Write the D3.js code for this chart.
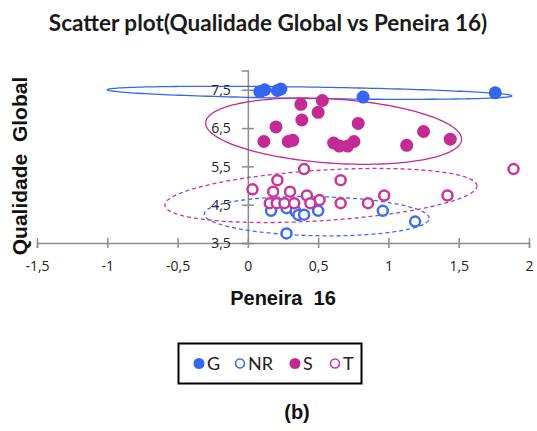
<!DOCTYPE html>
<html>
<head>
<meta charset="utf-8">
<script src="https://cdn.jsdelivr.net/npm/d3@7/dist/d3.min.js"></script>
<style>
  html, body { margin: 0; padding: 0; background: #fff; }
  svg { display: block; }
</style>
</head>
<body>
<svg id="chart" width="537" height="431"></svg>
<script>
// Series names and colours
const seriesNames = ["G", "NR", "S", "T"];
const seriesColors = ["#3566f2", "#3b6cf5", "#c42a94", "#c8369c"];
const seriesFilled = [true, false, true, false];

// Peneira 16 (x) and Qualidade Global (y) per series
const gX  = [0.085, 0.12, 0.21, 0.235, 0.82, 1.76];
const gY  = [7.45, 7.50, 7.48, 7.52, 7.31, 7.42];
const nrX = [0.165, 0.275, 0.34, 0.36, 0.40, 0.50, 0.96, 1.19, 0.275];
const nrY = [4.34, 4.41, 4.32, 4.23, 4.24, 4.34, 4.34, 4.06, 3.75];
const sX  = [0.114, 0.20, 0.287, 0.32, 0.377, 0.384, 0.53, 0.50, 0.785, 0.61, 0.65, 0.71, 0.755, 1.13, 1.25, 1.44];
const sY  = [6.15, 6.53, 6.15, 6.18, 7.12, 6.71, 7.22, 6.91, 6.62, 6.11, 6.03, 6.03, 6.15, 6.05, 6.41, 6.21];
const tX  = [0.40, 0.033, 0.21, 0.18, 0.30, 0.42, 0.66, 0.51, 0.156, 0.206, 0.26, 0.33, 0.445, 0.66, 0.855, 0.97, 1.42, 1.89];
const tY  = [5.43, 4.90, 5.14, 4.84, 4.84, 4.74, 5.14, 4.62, 4.54, 4.54, 4.54, 4.54, 4.54, 4.54, 4.54, 4.74, 4.74, 5.43];

// Group ellipses (G, NR, S, T): centre, half-extent in x, y shift at x-extreme, y half-axis
const ellCenterX = [0.44, 0.49, 0.61, 0.52];
const ellCenterY = [7.42, 4.20, 6.42, 4.74];
const ellHalfX   = [1.44, 0.80, 0.91, 1.11];
const ellTiltY   = [-0.08, -0.055, -0.21, 0.25];
const ellHalfY   = [0.15, 0.51, 0.84, 0.66];
const ellDashed  = [false, true, false, true];

// Axis ticks
const xTicks = [-1.5, -1, -0.5, 0, 0.5, 1, 1.5, 2];
const yTicks = [3.5, 4.5, 5.5, 6.5, 7.5];

const xs = [gX, nrX, sX, tX];
const ys = [gY, nrY, sY, tY];

const svg = d3.select("#chart");
svg.append("rect").attr("width", 537).attr("height", 431).attr("fill", "#fff");

const x = d3.scaleLinear().domain([-1.5, 2]).range([37, 529]);
const y = d3.scaleLinear().domain([3.5, 8]).range([243, 70.6]);

const comma = v => String(v).replace(".", ",");
const axisColor = "#8c8c8c";

// Title
svg.append("text")
  .attr("x", 268).attr("y", 31)
  .attr("text-anchor", "middle")
  .attr("font-family", "Lato, 'Open Sans', sans-serif")
  .attr("font-weight", "bold")
  .attr("font-size", 22.5)
  .attr("fill", "#1a1a1a")
  .text("Scatter plot(Qualidade Global vs Peneira 16)");

// X axis (crossing tick marks)
const gx = svg.append("g")
  .attr("transform", `translate(0,${y(3.5)})`)
  .call(d3.axisBottom(x).tickValues(xTicks).tickFormat(comma).tickSizeOuter(0).tickSize(5));
gx.select(".domain").attr("stroke", axisColor).attr("stroke-width", 1.5);
gx.selectAll(".tick line").attr("y1", -5).attr("y2", 5).attr("stroke", axisColor).attr("stroke-width", 1.5);
gx.selectAll(".tick text")
  .attr("y", 18).attr("dy", "0.71em")
  .attr("font-family", "'Open Sans', sans-serif").attr("font-size", 14).attr("fill", "#222");

// Y axis at x = 0
const gy = svg.append("g")
  .attr("transform", `translate(${x(0)},0)`)
  .call(d3.axisLeft(y).tickValues(yTicks).tickFormat(comma).tickSizeOuter(0).tickSize(6));
gy.select(".domain").attr("stroke", axisColor).attr("stroke-width", 1.5);
gy.selectAll(".tick line").attr("x1", -6).attr("x2", 6).attr("stroke", axisColor).attr("stroke-width", 1.5);
gy.selectAll(".tick text")
  .attr("x", -17).attr("dy", "0.35em")
  .attr("font-family", "'Open Sans', sans-serif").attr("font-size", 14).attr("fill", "#222");

// Axis titles
svg.append("text")
  .attr("transform", `translate(27,166) rotate(-90)`)
  .attr("text-anchor", "middle")
  .attr("font-family", "'Liberation Sans', Arial, sans-serif")
  .attr("font-weight", "bold").attr("font-size", 21).attr("fill", "#111")
  .attr("xml:space", "preserve")
  .text("Qualidade  Global");

svg.append("text")
  .attr("x", 283).attr("y", 305)
  .attr("text-anchor", "middle")
  .attr("font-family", "'Liberation Sans', Arial, sans-serif")
  .attr("font-weight", "bold").attr("font-size", 20).attr("fill", "#111")
  .attr("xml:space", "preserve")
  .text("Peneira  16");

// Ellipses
const ellLine = d3.line().x(d => x(d[0])).y(d => y(d[1]));
const steps = d3.range(0, 181).map(i => i / 180 * 2 * Math.PI);
seriesNames.forEach((name, i) => {
  const pts = steps.map(t => [
    ellCenterX[i] + ellHalfX[i] * Math.cos(t),
    ellCenterY[i] + ellTiltY[i] * Math.cos(t) + ellHalfY[i] * Math.sin(t)
  ]);
  svg.append("path")
    .attr("d", ellLine(pts))
    .attr("fill", "none")
    .attr("stroke", seriesColors[i])
    .attr("stroke-width", 1.3)
    .attr("stroke-dasharray", ellDashed[i] ? "4,3" : null);
});

// Points
seriesNames.forEach((name, i) => {
  const data = xs[i].map((v, k) => [v, ys[i][k]]);
  svg.append("g").selectAll("circle").data(data).join("circle")
    .attr("cx", d => x(d[0]))
    .attr("cy", d => y(d[1]))
    .attr("r", seriesFilled[i] ? 6.5 : 5)
    .attr("fill", seriesFilled[i] ? seriesColors[i] : "#fff")
    .attr("stroke", seriesColors[i])
    .attr("stroke-width", seriesFilled[i] ? 0 : 2.5);
});

// Legend
const legend = svg.append("g");
legend.append("rect")
  .attr("x", 178.5).attr("y", 343.5).attr("width", 183).attr("height", 40)
  .attr("fill", "#fff").attr("stroke", "#000").attr("stroke-width", 2);
const legendX = [199, 240, 295, 335];
seriesNames.forEach((name, i) => {
  legend.append("circle")
    .attr("cx", legendX[i]).attr("cy", 363.5)
    .attr("r", seriesFilled[i] ? 5.5 : 4.5)
    .attr("fill", seriesFilled[i] ? seriesColors[i] : "#fff")
    .attr("stroke", seriesColors[i])
    .attr("stroke-width", seriesFilled[i] ? 0 : 1.6);
  legend.append("text")
    .attr("x", legendX[i] + 8).attr("y", 363.5).attr("dy", "0.36em")
    .attr("font-family", "Lato, 'Open Sans', sans-serif")
    .attr("font-size", 18).attr("fill", "#222")
    .text(name);
});

// Panel label
svg.append("text")
  .attr("x", 297).attr("y", 419)
  .attr("text-anchor", "middle")
  .attr("font-family", "'Liberation Sans', Arial, sans-serif")
  .attr("font-weight", "bold").attr("font-size", 20).attr("fill", "#111")
  .text("(b)");
</script>
</body>
</html>
